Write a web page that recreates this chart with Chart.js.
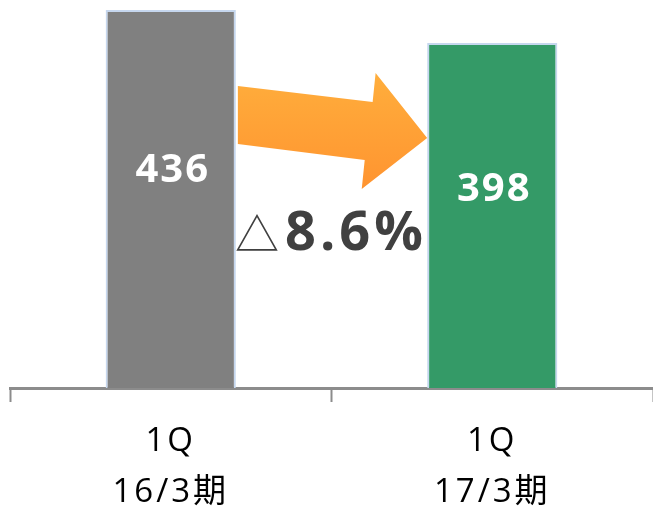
<!DOCTYPE html>
<html>
<head>
<meta charset="utf-8">
<script src="https://cdn.jsdelivr.net/npm/chart.js@4/dist/chart.umd.min.js"></script>
<style>
  html, body { margin: 0; padding: 0; background: #fff; }
  #wrap { width: 653px; height: 510px; position: relative; }
</style>
</head>
<body>
<div id="wrap"><canvas id="c" width="653" height="510"></canvas></div>
<script>
// ---- data ----
const categories = [["1Q", "16/3期"], ["1Q", "17/3期"]];
const values = [436, 398];
const barColors = ["#808080", "#349a67"];
const changeLabel = "8.6%";
const changeMark = "△";

// ---- decoration plugin: data labels, arrow, change text ----
const overlay = {
  id: "overlay",
  beforeDraw(chart) {
    chart.ctx.letterSpacing = "3px";
  },
  afterDatasetsDraw(chart) {
    const ctx = chart.ctx;
    const meta = chart.getDatasetMeta(0);
    ctx.save();
    // data labels inside bars
    ctx.fillStyle = "#ffffff";
    ctx.font = "bold 40px 'Open Sans', 'Noto Sans', sans-serif";
    ctx.letterSpacing = "2px";
    ctx.textAlign = "center";
    ctx.textBaseline = "middle";
    meta.data.forEach((bar, i) => {
      const y = bar.y + (bar.base - bar.y) * 0.425;
      ctx.fillText(String(values[i]), bar.x + 2, y);
    });

    // arrow between bars
    const b0 = meta.data[0], b1 = meta.data[1];
    const x0 = b0.x + b0.width / 2 + 2;
    const x1 = b1.x - b1.width / 2;
    const sx = (x1 - x0) / (429 - 238);
    const P = (x, y) => [x0 + (x - 238) * sx, y];
    const pts = [P(238, 86), P(374, 102), P(377, 73), P(429, 138), P(363, 189), P(366, 160), P(238, 144)];
    const g = ctx.createLinearGradient(0, 73, 0, 189);
    g.addColorStop(0, "#ffae3c");
    g.addColorStop(1, "#ff9430");
    ctx.beginPath();
    pts.forEach((p, i) => i ? ctx.lineTo(p[0], p[1]) : ctx.moveTo(p[0], p[1]));
    ctx.closePath();
    ctx.fillStyle = g;
    ctx.fill();

    // change text
    ctx.letterSpacing = "0px";
    ctx.textAlign = "left";
    ctx.textBaseline = "alphabetic";
    ctx.fillStyle = "#404040";
    ctx.font = "44px 'Noto Sans CJK JP', sans-serif";
    ctx.fillText(changeMark, 235, 251);
    ctx.font = "bold 54px 'Open Sans', 'Noto Sans', sans-serif";
    ctx.letterSpacing = "4px";
    ctx.fillText(changeLabel, 285, 250);
    ctx.restore();
  }
};

new Chart(document.getElementById("c"), {
  type: "bar",
  data: {
    labels: categories,
    datasets: [{
      data: values,
      backgroundColor: barColors,
      borderColor: "#c6d7ee",
      borderWidth: 2,
      borderSkipped: "bottom",
      barPercentage: 0.81,
      categoryPercentage: 0.5
    }]
  },
  options: {
    responsive: false,
    animation: false,
    devicePixelRatio: 1,
    layout: { padding: { left: 10, right: -2, top: 0, bottom: 0 } },
    plugins: { legend: { display: false }, tooltip: { enabled: false } },
    scales: {
      y: {
        display: false,
        min: 0,
        max: 447.5
      },
      x: {
        afterFit: s => { s.height = 122; },
        grid: {
          display: true,
          offset: true,
          drawOnChartArea: false,
          drawTicks: true,
          tickLength: 14,
          tickWidth: 2,
          tickColor: "#8c8c8c"
        },
        border: { display: true, color: "#8c8c8c", width: 3 },
        ticks: {
          color: "#000000",
          padding: 14,
          font: { family: "'Open Sans', 'Noto Sans CJK JP', sans-serif", size: 33, lineHeight: 1.55 }
        }
      }
    }
  },
  plugins: [overlay]
});
</script>
</body>
</html>
